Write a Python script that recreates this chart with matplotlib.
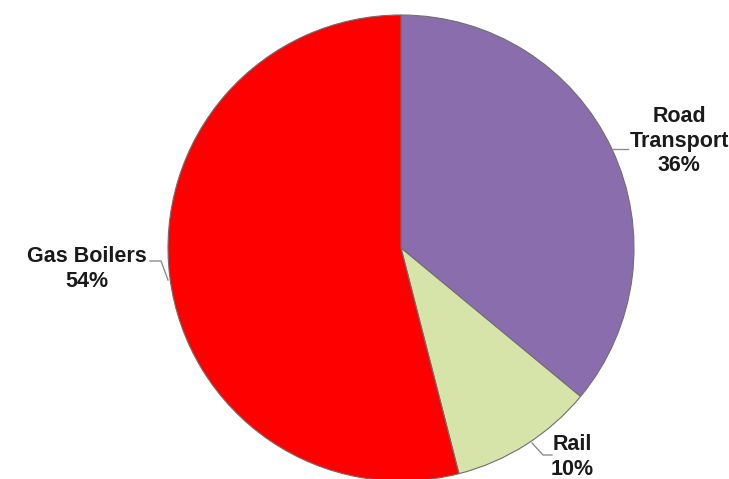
"""
Pie chart: share of emissions by source (Road Transport / Rail / Gas Boilers).
Output: out.png
"""
import matplotlib
matplotlib.use("Agg")
import matplotlib.pyplot as plt

labels = ["Road\nTransport", "Rail", "Gas Boilers"]
shares = [36, 10, 54]
colours = ["#8a6dad", "#d6e4a9", "#ff0000"]

W, H = 729, 479

# label anchor and leader line points, measured from the top-left in pixels
label_pos = [(679, 141), (572, 457), (87, 269)]
leaders = [
    [(613, 149), (628, 149)],
    [(532, 443), (543, 455), (552, 455)],
    [(150, 261), (161, 261), (168, 280)],
]

fig = plt.figure(figsize=(W / 100, H / 100), dpi=100)
ax = fig.add_axes([0, 0, 1, 1])

ax.pie(shares, colors=colours, startangle=90, counterclock=False,
       center=(401, H - 248), radius=233,
       wedgeprops=dict(edgecolor="#6f6f6f", linewidth=0.8))

for lab, v, (x, y), pts in zip(labels, shares, label_pos, leaders):
    ax.text(x, H - y, f"{lab}\n{v}%", ha="center", va="center",
            fontsize=15.5, fontweight="bold", family="Liberation Sans",
            color="#1a1a1a", linespacing=1.2)
    xs = [p[0] for p in pts]
    ys = [H - p[1] for p in pts]
    ax.plot(xs, ys, color="#8c8c8c", linewidth=1)

ax.set_xlim(0, W)
ax.set_ylim(0, H)
ax.set_aspect("equal")
ax.axis("off")

fig.savefig("out.png", dpi=100)
